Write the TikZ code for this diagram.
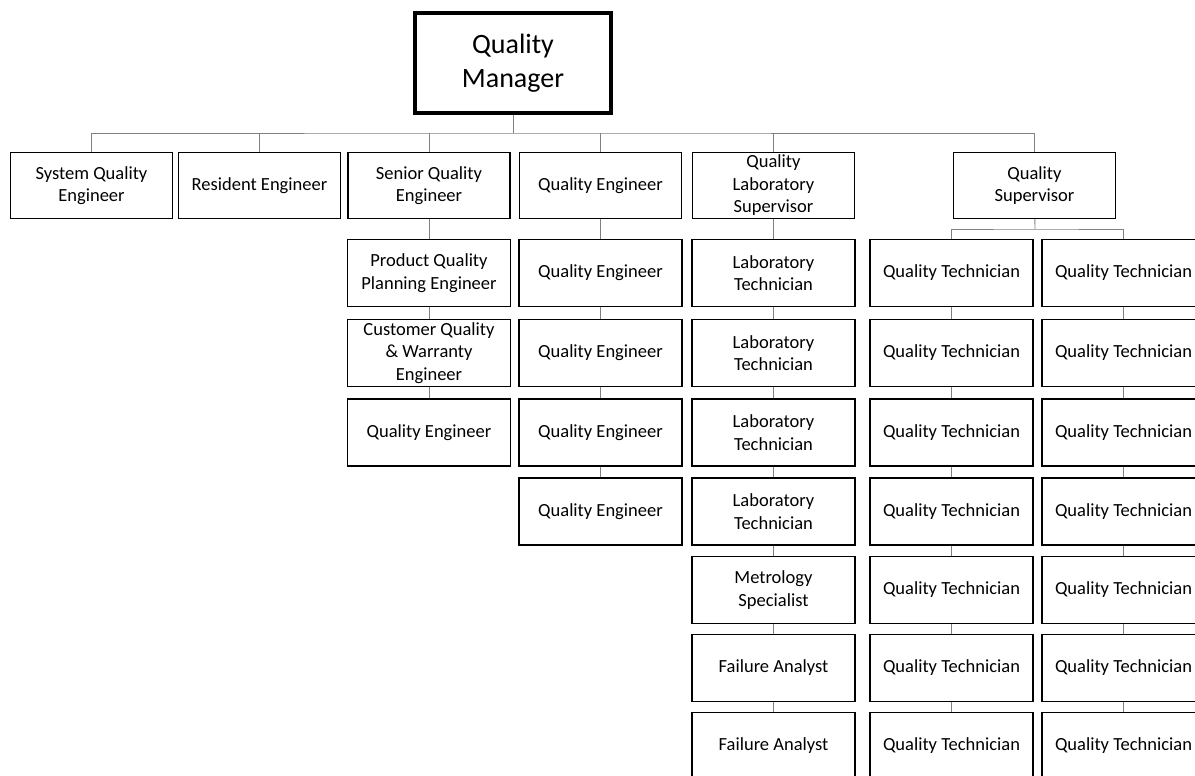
\documentclass[tikz,border=0pt]{standalone}
\usepackage{fontspec}
\setmainfont{Carlito}
\usetikzlibrary{positioning}
\definecolor{linkgray}{RGB}{128,128,128}
\tikzstyle{boss} = [rectangle, draw, line width=4pt, minimum width=196pt, minimum height=100pt, align=center, font=\fontsize{28}{34.5}\selectfont]
\tikzstyle{role} = [rectangle, draw, line width=1.3pt, minimum width=162pt, minimum height=66pt, inner sep=1pt, align=center, font=\fontsize{18.5}{22.5}\selectfont]
\tikzstyle{staff} = [role, minimum width=163pt, minimum height=67pt]
\tikzstyle{link} = [draw=linkgray, line width=0.9pt]

\begin{document}
\begin{tikzpicture}[x=1pt, y=-1pt]
  \useasboundingbox (0,0) rectangle (1195,776);
  \clip (0,0) rectangle (1195,776);

  % top
  \node[boss] (qm) at (513,63) {Quality\\Manager};
  \coordinate (bus) at (513,133);

  % first level
  \node[role] (sqe) at (91.5,185.5) {System Quality\\Engineer};
  \node[role] (re) at (259.5,185.5) {Resident Engineer};
  \node[role] (sen) at (429,185.5) {Senior Quality\\Engineer};
  \node[role] (qe) at (600.5,185.5) {Quality Engineer};
  \node[role] (qls) at (773.5,185.5) {Quality\\Laboratory\\Supervisor};
  \node[role] (qs) at (1034.5,185.5) {Quality\\Supervisor};

  \draw[link] (qm) -- (bus);
  \draw[link] (sqe.north) |- (bus) -| (qs.north);
  \draw[link] (re.north) -- (re.north |- bus);
  \draw[link] (sen.north) -- (sen.north |- bus);
  \draw[link] (qe.north) -- (qe.north |- bus);
  \draw[link] (qls.north) -- (qls.north |- bus);

  % senior quality engineer
  \node[staff] (sen_1) at (429,273) {Product Quality\\Planning Engineer};
  \node[staff] (sen_2) at (429,353) {Customer Quality\\\& Warranty\\Engineer};
  \node[staff] (sen_3) at (429,432.5) {Quality Engineer};

  \draw[link] (sen) -- (sen_1);
  \draw[link] (sen_1) -- (sen_2);
  \draw[link] (sen_2) -- (sen_3);

  % quality engineer
  \node[staff] (qe_1) at (600.5,273) {Quality Engineer};
  \node[staff] (qe_2) at (600.5,353) {Quality Engineer};
  \node[staff] (qe_3) at (600.5,432.5) {Quality Engineer};
  \node[staff] (qe_4) at (600.5,511.5) {Quality Engineer};

  \draw[link] (qe) -- (qe_1);
  \draw[link] (qe_1) -- (qe_2);
  \draw[link] (qe_2) -- (qe_3);
  \draw[link] (qe_3) -- (qe_4);

  % laboratory
  \node[staff] (lab_1) at (773.5,273) {Laboratory\\Technician};
  \node[staff] (lab_2) at (773.5,353) {Laboratory\\Technician};
  \node[staff] (lab_3) at (773.5,432.5) {Laboratory\\Technician};
  \node[staff] (lab_4) at (773.5,511.5) {Laboratory\\Technician};
  \node[staff] (met_1) at (773.5,590) {Metrology\\Specialist};
  \node[staff] (fa_1) at (773.5,668) {Failure Analyst};
  \node[staff] (fa_2) at (773.5,746) {Failure Analyst};

  \draw[link] (qls) -- (lab_1);
  \draw[link] (lab_1) -- (lab_2);
  \draw[link] (lab_2) -- (lab_3);
  \draw[link] (lab_3) -- (lab_4);
  \draw[link] (lab_4) -- (met_1);
  \draw[link] (met_1) -- (fa_1);
  \draw[link] (fa_1) -- (fa_2);

  % quality supervisor
  \coordinate (qs_bus) at (1035,229);
  \node[staff] (ta_1) at (951.5,273) {Quality Technician};
  \node[staff] (ta_2) at (951.5,353) {Quality Technician};
  \node[staff] (ta_3) at (951.5,432.5) {Quality Technician};
  \node[staff] (ta_4) at (951.5,511.5) {Quality Technician};
  \node[staff] (ta_5) at (951.5,590) {Quality Technician};
  \node[staff] (ta_6) at (951.5,668) {Quality Technician};
  \node[staff] (ta_7) at (951.5,746) {Quality Technician};
  \node[staff] (tb_1) at (1123.5,273) {Quality Technician};
  \node[staff] (tb_2) at (1123.5,353) {Quality Technician};
  \node[staff] (tb_3) at (1123.5,432.5) {Quality Technician};
  \node[staff] (tb_4) at (1123.5,511.5) {Quality Technician};
  \node[staff] (tb_5) at (1123.5,590) {Quality Technician};
  \node[staff] (tb_6) at (1123.5,668) {Quality Technician};
  \node[staff] (tb_7) at (1123.5,746) {Quality Technician};

  \draw[link] (qs) -- (qs_bus);
  \draw[link] (ta_1.north) |- (qs_bus) -| (tb_1.north);
  \draw[link] (ta_1) -- (ta_2);
  \draw[link] (ta_2) -- (ta_3);
  \draw[link] (ta_3) -- (ta_4);
  \draw[link] (ta_4) -- (ta_5);
  \draw[link] (ta_5) -- (ta_6);
  \draw[link] (ta_6) -- (ta_7);
  \draw[link] (tb_1) -- (tb_2);
  \draw[link] (tb_2) -- (tb_3);
  \draw[link] (tb_3) -- (tb_4);
  \draw[link] (tb_4) -- (tb_5);
  \draw[link] (tb_5) -- (tb_6);
  \draw[link] (tb_6) -- (tb_7);
\end{tikzpicture}
\end{document}
